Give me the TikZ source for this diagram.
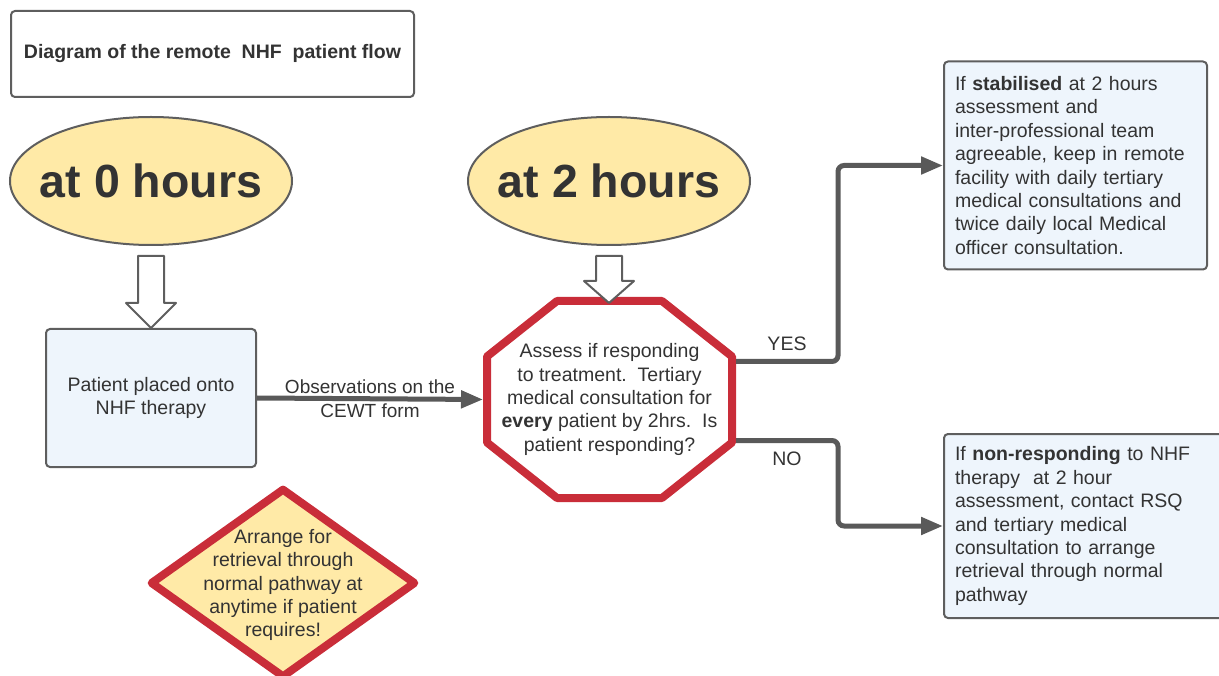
\documentclass[tikz,border=0pt]{standalone}
\usepackage{fontspec}
\setmainfont{Liberation Sans}
\usetikzlibrary{calc}
\usetikzlibrary{shapes}
\usetikzlibrary{arrows.meta}

\definecolor{ink}{HTML}{333333}
\definecolor{edge}{HTML}{5E5E5E}
\definecolor{wire}{HTML}{595959}
\definecolor{cream}{HTML}{FFEAA7}
\definecolor{pale}{HTML}{EEF5FC}
\definecolor{alarm}{HTML}{C92D39}

\newcommand{\bodyfont}{\fontsize{19.5pt}{23.4pt}\selectfont}
\newcommand{\clockfont}{\fontsize{46.5pt}{56pt}\selectfont\bfseries}

% hollow block arrow from the bottom of #1 down to #2, head length #3
\newcommand{\hollowdown}[3]{%
  \draw [hollow] let \p1=(#1), \p2=(#2) in
    (\x1-13pt,\y1-10pt) -- (\x1+13pt,\y1-10pt) -- (\x1+13pt,\y2+#3)
    -- (\x1+25pt,\y2+#3) -- (\x1,\y2) -- (\x1-25pt,\y2+#3)
    -- (\x1-13pt,\y2+#3) -- cycle;
}

\begin{document}
\begin{tikzpicture}[%
  x=1pt, y=-1pt,
  every node/.style={text=ink, font=\bodyfont},
  heading/.style={rectangle, rounded corners=4pt,
                  draw=edge, line width=2pt, fill=white
  },
  clock/.style={ellipse, draw=edge, line width=2pt, fill=cream,
                minimum width=282pt, minimum height=128pt
  },
  clocktext/.style={font=\clockfont, text=ink},
  step box/.style={rectangle, rounded corners=4pt,
                   draw=edge, line width=2pt, fill=pale
  },
  stopsign/.style={rectangle, inner sep=0pt, outer sep=4pt,
                   minimum width=245pt, minimum height=197pt
  },
  stopline/.style={draw=alarm, line width=8pt, line join=round},
  warn/.style={diamond, draw=alarm, line width=8pt, fill=cream,
               line join=round, inner sep=0pt,
               minimum width=266pt, minimum height=190pt
  },
  warntext/.style={align=center, font=\bodyfont, text=ink, yshift=-2pt},
  flow/.style={draw=wire, line width=5pt, rounded corners=6pt,
               -{Triangle[length=22pt,width=17pt]}
  },
  hollow/.style={draw=edge, line width=2pt, fill=white, line join=round}
]
\useasboundingbox (0,0) rectangle (1219,676);
\clip (0,0) rectangle (1219,676);

\node [heading, minimum width=403pt, minimum height=86pt] (title)
   at (212.5,54) {\textbf{Diagram of the remote\ \ NHF\ \ patient flow}};

\node [clock, label={[clocktext]center:at 0 hours}] (zero) at (151,181) {};
\node [clock, label={[clocktext]center:at 2 hours}] (two) at (609,181) {};

\node [step box, minimum width=210pt, minimum height=138pt, align=center]
   (placed) at (151,398) {Patient placed onto\\NHF therapy};

\node [stopsign, align=center] (assess) at (609.5,399.5) {
   Assess if responding\\
   to treatment.\ \ Tertiary\\
   medical consultation for\\
   \textbf{every} patient by 2hrs.\ \ Is\\
   patient responding?
};
% octagon outline round the assessment
\draw [stopline] let \p1=(assess.center) in
   (\x1-52.5pt,\y1+98.5pt) -- (\x1+52.5pt,\y1+98.5pt)
   -- (\x1+122.5pt,\y1+43pt) -- (\x1+122.5pt,\y1-43pt)
   -- (\x1+52.5pt,\y1-98.5pt) -- (\x1-52.5pt,\y1-98.5pt)
   -- (\x1-122.5pt,\y1-43pt) -- (\x1-122.5pt,\y1+43pt) -- cycle;

\node [step box, minimum width=263pt, minimum height=208pt,
       text width=241pt, inner xsep=11pt, align=left]
   (stab) at (1075.5,165.5) {
   If \textbf{stabilised} at 2 hours\\
   assessment and\\
   inter-professional team\\
   agreeable, keep in remote\\
   facility with daily tertiary\\
   medical consultations and\\
   twice daily local Medical\\
   officer consultation.
};

\node [step box, minimum width=285pt, minimum height=184pt,
       text width=263pt, inner xsep=11pt, align=left]
   (nonresp) at (1086.5,526) {
   If \textbf{non-responding} to NHF\\
   therapy\ \ at 2 hour\\
   assessment, contact RSQ\\
   and tertiary medical\\
   consultation to arrange\\
   retrieval through normal\\
   pathway
};

\node [warn, label={[warntext]center:Arrange for\\retrieval through\\
   normal pathway at\\anytime if patient\\requires!}] (retrieve) at (283,583) {};

% block arrows into the steps
\hollowdown{zero.south}{placed.north}{25pt}
\hollowdown{two.south}{[yshift=-6pt]assess.north}{22pt}

\draw [flow] (placed.east) -- node [align=center, font=\fontsize{19pt}{23.4pt}\selectfont]
   {Observations on the\\CEWT form} (assess.west);

\draw [flow] ([yshift=38pt]assess.east) -- node [above, yshift=5pt] {YES} ++(102,0) |- (stab.west);
\draw [flow] ([yshift=-41pt]assess.east) -- node [below, yshift=-6pt] {NO} ++(102,0) |- (nonresp.west);

\end{tikzpicture}
\end{document}
